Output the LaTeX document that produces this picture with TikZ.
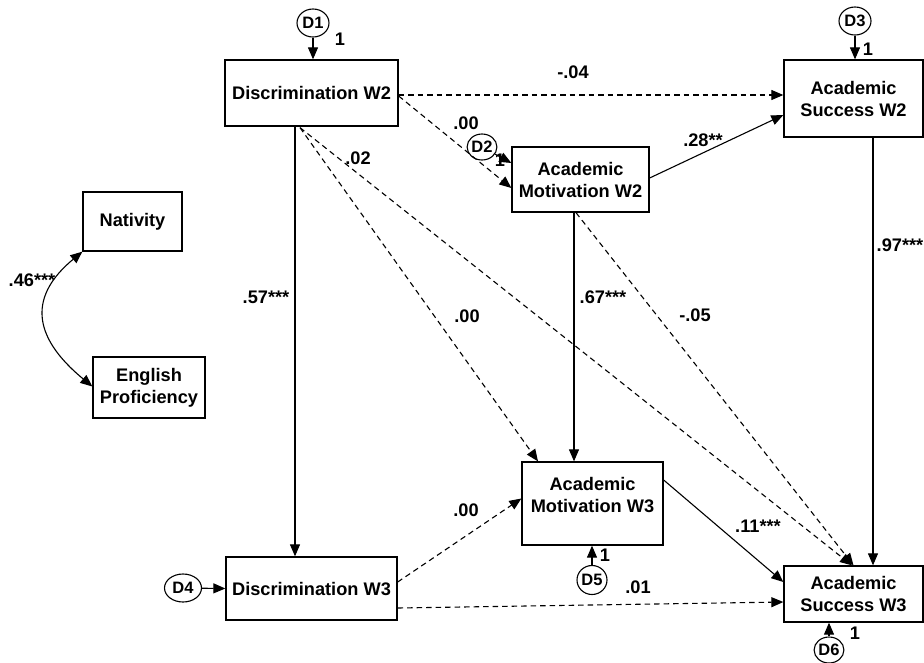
\documentclass[tikz,border=0pt]{standalone}
\usepackage{fontspec}
\setmainfont{Liberation Sans}
\usetikzlibrary{arrows.meta,shapes.geometric}

\tikzset{
  every node/.style={font=\fontsize{18.2}{22}\selectfont\bfseries, inner sep=0pt},
  varbox/.style={draw, line width=1.3pt, rectangle, align=center},
  dist/.style={draw, line width=1.1pt, ellipse, minimum width=30pt, minimum height=28pt,
               font=\fontsize{16.5}{18}\selectfont\bfseries},
  effect/.style={line width=1.1pt, -{Triangle[length=12pt,width=10pt]}},
  nseffect/.style={effect, dash pattern=on 5.5pt off 4pt},
  corr/.style={line width=1.1pt, {Triangle[length=12pt,width=10pt]}-{Triangle[length=12pt,width=10pt]}},
  coef/.style={}
}

\begin{document}
\begin{tikzpicture}[x=1pt, y=-1pt]
\useasboundingbox (0,0) rectangle (924,662);

% observed variables
\node[varbox, minimum width=173pt, minimum height=66pt] (dw2) at (311.5,93) {Discrimination W2};
\node[varbox, minimum width=137pt, minimum height=65pt] (amw2) at (580.5,179.5) {Academic\\Motivation W2};
\node[varbox, minimum width=139pt, minimum height=77pt] (asw2) at (853.5,98.5) {Academic\\Success W2};
\node[varbox, minimum width=99pt, minimum height=59pt] (nat) at (132.5,221.5) {Nativity};
\node[varbox, minimum width=112pt, minimum height=61pt] (eng) at (149,387.5) {English\\Proficiency};
\node[varbox, minimum width=171pt, minimum height=63pt] (dw3) at (311.5,588.5) {Discrimination W3};
\node[varbox, minimum width=141pt, minimum height=83pt] (amw3) at (592.5,503.5) {};
\node[align=center] (amw3text) at (592.5,495) {Academic\\Motivation W3};
\node[varbox, minimum width=139pt, minimum height=56pt] (asw3) at (853.5,594) {Academic\\Success W3};

% disturbances
\node[dist, minimum width=32pt] (d1) at (313,23) {D1};
\node[dist, minimum width=25pt, minimum height=26pt] (d2) at (482,147) {D2};
\node[dist, minimum width=32pt] (d3) at (855,21) {D3};
\node[dist, minimum width=37pt] (d4) at (183,588) {D4};
\node[dist, minimum width=30pt, minimum height=29pt] (d5) at (592,580) {D5};
\node[dist, minimum width=29pt, minimum height=26pt] (d6) at (829,650) {D6};

% disturbance paths and their fixed loadings
\draw[effect] (d1.south) -- (d1.south |- dw2.north);
\draw[effect] (d2) -- ([yshift=16.5pt]amw2.west);
\draw[effect] (d3.south) -- (d3.south |- asw2.north);
\draw[effect] (d4) -- (dw3.west);
\draw[effect] (d5.north) -- (d5.north |- amw3.south);
\draw[effect] (d6.north) -- (d6.north |- asw3.south);
\node (one1) at (340,39) {1};
\node (one2) at (500,160) {1};
\node (one3) at (868,49) {1};
\node (one5) at (605,555) {1};
\node (one6) at (855,633) {1};

% structural paths
\draw[nseffect] ([yshift=-2pt]dw2.east) -- ([yshift=3.5pt]asw2.west);
\draw[nseffect] ([yshift=-3pt]dw2.east) -- ([yshift=-8.5pt]amw2.west);
\coordinate (dwa) at ([xshift=-16.5pt]dw2.south);
\draw[effect] (dwa) -- (dwa |- dw3.north);
\coordinate (dwb) at ([xshift=-11.5pt,yshift=-1pt]dw2.south);
\draw[nseffect] (dwb) -- ([xshift=-54.5pt]amw3.north);
\draw[nseffect] (dwb) -- ([xshift=-1.5pt]asw3.north);
\draw[effect] ([yshift=1.5pt]amw2.east) -- ([yshift=-16.5pt]asw2.west);
\coordinate (ama) at ([xshift=-6.5pt]amw2.south);
\draw[effect] (ama) -- (ama |- amw3.north);
\draw[nseffect] ([xshift=-4.5pt]amw2.south) -- (asw3.north);
\coordinate (asa) at ([xshift=19.5pt]asw2.south);
\draw[effect] (asa) -- (asa |- asw3.north);
\draw[nseffect] ([yshift=6.5pt]dw3.east) -- ([yshift=5pt]amw3.west);
\draw[nseffect] ([yshift=-19.5pt]dw3.east) -- ([yshift=-8pt]asw3.west);
\draw[effect] ([yshift=23.5pt]amw3.east) -- ([yshift=12pt]asw3.west);
\draw[corr] (nat.south west) .. controls (30,295) and (30,335) .. ([yshift=1pt]eng.west);

% coefficients
\node[coef] (c46) at (32,280) {.46***};
\node[coef] (c04) at (573,72) {-.04};
\node[coef] (c00a) at (466,123) {.00};
\node[coef] (c02) at (358,158) {.02};
\node[coef] (c28) at (703,140) {.28**};
\node[coef] (c57) at (266,297) {.57***};
\node[coef] (c67) at (603,297) {.67***};
\node[coef] (c05) at (695,315) {-.05};
\node[coef] (c97) at (900,245) {.97***};
\node[coef] (c00b) at (467,316) {.00};
\node[coef] (c00c) at (466,510) {.00};
\node[coef] (c11) at (758,526) {.11***};
\node[coef] (c01) at (638,587) {.01};
\end{tikzpicture}
\end{document}
